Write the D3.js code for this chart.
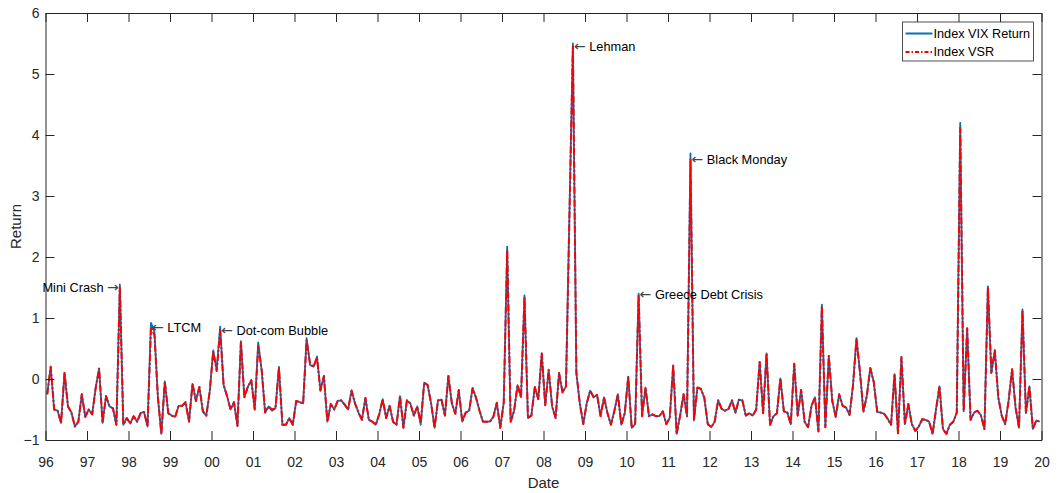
<!DOCTYPE html>
<html>
<head>
<meta charset="utf-8">
<script src="https://cdn.jsdelivr.net/npm/d3@7"></script>
<style>
  body { margin: 0; background: #fff; }
  svg { font-family: "Liberation Sans", Arial, sans-serif; }
</style>
</head>
<body>
<svg id="chart" width="1059" height="493"></svg>
<script>
// monthly returns, Jan 1996 .. Dec 2019
const startYear = 1996;

const vixReturn = [
  -0.25, 0.2, -0.5, -0.52, -0.72, 0.1, -0.45, -0.55, -0.78, -0.7, -0.25, -0.62,
  -0.5, -0.58, -0.15, 0.17, -0.72, -0.28, -0.45, -0.48, -0.75, 1.55, -0.75, -0.64,
  -0.73, -0.61, -0.7, -0.56, -0.54, -0.78, 0.92, 0.78, -0.3, -0.9, -0.04, -0.56,
  -0.6, -0.62, -0.44, -0.44, -0.38, -0.7, -0.08, -0.36, -0.13, -0.54, -0.6, -0.2,
  0.47, 0.15, 0.86, -0.1, -0.28, -0.5, -0.38, -0.77, 0.62, -0.3, -0.13, -0.02,
  -0.5, 0.6, 0.15, -0.55, -0.45, -0.52, -0.48, 0.2, -0.75, -0.75, -0.64, -0.75,
  -0.36, -0.38, -0.4, 0.67, 0.23, 0.2, 0.37, -0.19, 0.05, -0.7, -0.41, -0.5,
  -0.36, -0.35, -0.42, -0.5, -0.19, -0.4, -0.55, -0.67, -0.31, -0.67, -0.7, -0.75,
  -0.58, -0.33, -0.64, -0.44, -0.7, -0.75, -0.28, -0.8, -0.35, -0.4, -0.6, -0.45,
  -0.75, -0.06, -0.1, -0.4, -0.8, -0.35, -0.34, -0.6, 0.05, -0.4, -0.57, -0.18,
  -0.7, -0.55, -0.52, -0.15, -0.31, -0.52, -0.7, -0.7, -0.7, -0.62, -0.39, -0.8,
  -0.39, 2.17, -0.7, -0.52, -0.1, -0.3, 1.37, -0.64, -0.6, -0.13, -0.33, 0.42,
  -0.43, 0.15, -0.45, -0.64, 0.1, -0.22, -0.12, 2.7, 5.5, 0.1, -0.4, -0.74,
  -0.4, -0.19, -0.3, -0.26, -0.61, -0.3, -0.56, -0.75, -0.52, -0.25, -0.75, -0.56,
  0.04, -0.8, -0.74, 1.4, -0.61, -0.14, -0.61, -0.58, -0.61, -0.61, -0.53, -0.74,
  -0.64, 0.22, -0.9, -0.6, -0.25, -0.61, 3.7, -0.68, -0.14, -0.16, -0.31, -0.74,
  -0.79, -0.7, -0.35, -0.49, -0.52, -0.49, -0.35, -0.55, -0.34, -0.35, -0.6, -0.56,
  -0.6, -0.5, 0.28, -0.56, 0.42, -0.75, -0.61, -0.56, 0.01, -0.53, -0.55, -0.74,
  0.25, -0.6, -0.18, -0.7, -0.79, -0.44, -0.3, -0.86, 1.22, -0.79, 0.38, -0.36,
  -0.62, -0.25, -0.44, -0.47, -0.59, -0.1, 0.67, 0.12, -0.54, -0.27, 0.18, -0.05,
  -0.54, -0.55, -0.57, -0.65, -0.75, 0.08, -0.89, 0.36, -0.74, -0.41, -0.74, -0.85,
  -0.78, -0.66, -0.67, -0.7, -0.9, -0.5, -0.12, -0.82, -0.9, -0.75, -0.7, -0.55,
  4.2, -0.53, 0.83, -0.67, -0.55, -0.52, -0.6, -0.82, 1.52, 0.1, 0.47, -0.3,
  -0.6, -0.74, -0.35, 0.16, -0.47, -0.8, 1.14, -0.56, -0.12, -0.82, -0.68, -0.7
];

const vsrReturn = [
  -0.25, 0.2, -0.5, -0.52, -0.72, 0.1, -0.45, -0.55, -0.78, -0.7, -0.25, -0.62,
  -0.5, -0.58, -0.15, 0.17, -0.72, -0.28, -0.45, -0.48, -0.75, 1.5, -0.75, -0.64,
  -0.73, -0.61, -0.7, -0.56, -0.54, -0.78, 0.85, 0.72, -0.3, -0.9, -0.04, -0.56,
  -0.6, -0.62, -0.44, -0.44, -0.38, -0.7, -0.08, -0.36, -0.13, -0.52, -0.6, -0.2,
  0.45, 0.13, 0.8, -0.1, -0.28, -0.5, -0.38, -0.77, 0.6, -0.3, -0.13, -0.02,
  -0.5, 0.54, 0.15, -0.55, -0.45, -0.5, -0.48, 0.18, -0.75, -0.75, -0.64, -0.75,
  -0.36, -0.38, -0.4, 0.63, 0.25, 0.2, 0.35, -0.19, 0.05, -0.7, -0.41, -0.5,
  -0.36, -0.35, -0.42, -0.5, -0.19, -0.4, -0.55, -0.67, -0.31, -0.67, -0.7, -0.75,
  -0.58, -0.33, -0.64, -0.44, -0.7, -0.75, -0.28, -0.8, -0.35, -0.4, -0.6, -0.45,
  -0.72, -0.06, -0.1, -0.4, -0.8, -0.35, -0.34, -0.6, 0.05, -0.4, -0.57, -0.18,
  -0.7, -0.55, -0.52, -0.15, -0.31, -0.52, -0.7, -0.7, -0.7, -0.62, -0.39, -0.8,
  -0.39, 2.11, -0.7, -0.52, -0.1, -0.3, 1.35, -0.64, -0.6, -0.13, -0.33, 0.42,
  -0.43, 0.15, -0.45, -0.64, 0.1, -0.22, -0.12, 2.68, 5.45, 0.1, -0.4, -0.74,
  -0.4, -0.19, -0.3, -0.26, -0.61, -0.3, -0.56, -0.75, -0.52, -0.25, -0.75, -0.56,
  0.04, -0.8, -0.74, 1.38, -0.61, -0.14, -0.61, -0.58, -0.61, -0.61, -0.53, -0.74,
  -0.64, 0.22, -0.9, -0.6, -0.25, -0.61, 3.6, -0.68, -0.14, -0.16, -0.31, -0.74,
  -0.79, -0.7, -0.35, -0.49, -0.52, -0.49, -0.35, -0.55, -0.34, -0.35, -0.6, -0.56,
  -0.6, -0.5, 0.28, -0.56, 0.42, -0.75, -0.61, -0.56, 0.01, -0.53, -0.55, -0.74,
  0.25, -0.6, -0.18, -0.7, -0.79, -0.44, -0.3, -0.86, 1.2, -0.79, 0.38, -0.36,
  -0.62, -0.25, -0.44, -0.47, -0.59, -0.1, 0.66, 0.12, -0.54, -0.27, 0.18, -0.05,
  -0.54, -0.55, -0.57, -0.65, -0.75, 0.08, -0.89, 0.36, -0.74, -0.41, -0.74, -0.85,
  -0.78, -0.66, -0.67, -0.7, -0.9, -0.5, -0.12, -0.82, -0.9, -0.75, -0.7, -0.55,
  4.12, -0.53, 0.83, -0.67, -0.55, -0.52, -0.6, -0.82, 1.5, 0.1, 0.47, -0.3,
  -0.6, -0.74, -0.35, 0.16, -0.47, -0.8, 1.13, -0.56, -0.12, -0.82, -0.68, -0.7
];

const seriesNames = ["Index VIX Return", "Index VSR"];
const yearTicks = d3.range(1996, 2021);
const returnTicks = [-1, 0, 1, 2, 3, 4, 5, 6];

// annotated events: label, month index, label on left side?
const events = [
  { label: "Mini Crash", month: 21, left: true },
  { label: "LTCM", month: 30, left: false },
  { label: "Dot-com Bubble", month: 50, left: false },
  { label: "Lehman", month: 152, left: false },
  { label: "Greece Debt Crisis", month: 171, left: false },
  { label: "Black Monday", month: 186, left: false }
];

const svg = d3.select("#chart");
const margin = { top: 13, right: 17.5, bottom: 53, left: 45.5 };
const W = 1059, H = 493;
const axisColor = "#262626";
const tickLen = 9;

const x = d3.scaleLinear().domain([1996, 2020]).range([margin.left, W - margin.right]);
const y = d3.scaleLinear().domain([-1, 6]).range([H - margin.bottom, margin.top]);

const dateOf = i => startYear + (i + 0.5) / 12;

const x0 = x.range()[0], x1 = x.range()[1];
const y0 = y.range()[0], y1 = y.range()[1];

// lines
const line = d3.line()
  .x((d, i) => x(dateOf(i)))
  .y(d => y(d));

svg.append("path")
  .datum(vixReturn)
  .attr("d", line)
  .attr("fill", "none")
  .attr("stroke", "#0072BD")
  .attr("stroke-width", 1.8)
  .attr("stroke-linejoin", "round");

svg.append("path")
  .datum(vsrReturn)
  .attr("d", line)
  .attr("fill", "none")
  .attr("stroke", "#FF0000")
  .attr("stroke-width", 2)
  .attr("stroke-dasharray", "7,2,2,2")
  .attr("stroke-linejoin", "round");

// axes (MATLAB style: box, ticks inward)
const bottomAxis = d3.axisBottom(x)
  .tickValues(yearTicks)
  .tickSizeInner(-tickLen).tickSizeOuter(0).tickPadding(17)
  .tickFormat(d => String(d % 100).padStart(2, "0"));
const topAxis = d3.axisTop(x).tickValues(yearTicks)
  .tickSizeInner(-tickLen).tickSizeOuter(0).tickFormat("");
const leftAxis = d3.axisLeft(y)
  .tickValues(returnTicks)
  .tickSizeInner(-tickLen).tickSizeOuter(0).tickPadding(6)
  .tickFormat(d3.format("d"));
const rightAxis = d3.axisRight(y).tickValues(returnTicks)
  .tickSizeInner(-tickLen).tickSizeOuter(0).tickFormat("");

const styleAxis = g => {
  g.select(".domain").attr("stroke", axisColor).attr("stroke-width", 1);
  g.selectAll(".tick line").attr("stroke", axisColor).attr("stroke-width", 1);
  g.selectAll(".tick text")
    .attr("fill", axisColor)
    .style("font-size", "14px")
    .style("font-family", "'Liberation Sans', Arial, sans-serif");
};

svg.append("g").attr("transform", `translate(0,${y0})`).call(bottomAxis).call(styleAxis);
svg.append("g").attr("transform", `translate(0,${y1})`).call(topAxis).call(styleAxis);
svg.append("g").attr("transform", `translate(${x0},0)`).call(leftAxis).call(styleAxis);
svg.append("g").attr("transform", `translate(${x1},0)`).call(rightAxis).call(styleAxis);

// axis titles
svg.append("text")
  .attr("x", (x0 + x1) / 2)
  .attr("y", y0 + 48)
  .attr("text-anchor", "middle")
  .attr("fill", axisColor)
  .style("font-size", "15px")
  .text("Date");

svg.append("text")
  .attr("transform", `translate(21,${(y0 + y1) / 2}) rotate(-90)`)
  .attr("text-anchor", "middle")
  .attr("fill", axisColor)
  .style("font-size", "15px")
  .text("Return");

// event annotations
const arrowFont = "'DejaVu Sans', sans-serif";
events.forEach(ev => {
  const px = x(dateOf(ev.month));
  const py = y(vsrReturn[ev.month]);
  const t = svg.append("text")
    .attr("x", ev.left ? px - 1 : px + 1)
    .attr("y", py)
    .attr("dy", "0.35em")
    .attr("text-anchor", ev.left ? "end" : "start")
    .attr("fill", "#000")
    .style("font-size", "12.8px");
  if (ev.left) {
    t.append("tspan").text(`${ev.label} `);
    t.append("tspan").style("font-family", arrowFont).style("font-size", "14px")
      .attr("fill", "#444").text("\u2192");
  } else {
    t.append("tspan").style("font-family", arrowFont).style("font-size", "14px")
      .attr("fill", "#444").text("\u2190");
    t.append("tspan").text(` ${ev.label}`);
  }
});

// legend
const legend = svg.append("g").attr("transform", `translate(${x1 - 139},${y1 + 9})`);
legend.append("rect")
  .attr("width", 131).attr("height", 39)
  .attr("fill", "#fff")
  .attr("stroke", axisColor)
  .attr("stroke-width", 0.8);

const legendStyles = [
  { color: "#0072BD", dash: null },
  { color: "#FF0000", dash: "4,2,1.5,2" }
];
seriesNames.forEach((name, i) => {
  const ly = 11.5 + i * 18.5;
  legend.append("line")
    .attr("x1", 3).attr("x2", 30)
    .attr("y1", ly).attr("y2", ly)
    .attr("stroke", legendStyles[i].color)
    .attr("stroke-width", 2)
    .attr("stroke-dasharray", legendStyles[i].dash);
  legend.append("text")
    .attr("x", 31).attr("y", ly)
    .attr("dy", "0.35em")
    .attr("fill", "#000")
    .style("font-size", "12.7px")
    .text(name);
});
</script>
</body>
</html>
